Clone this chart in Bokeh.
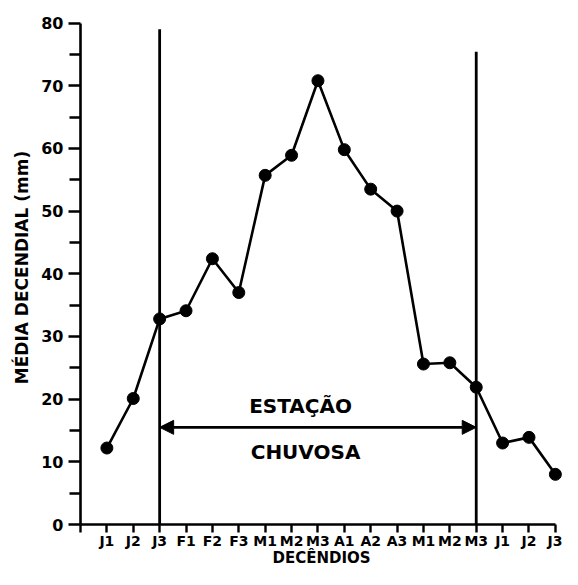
from bokeh.plotting import figure
from bokeh.models import FixedTicker, Range1d, Arrow, NormalHead, Label
from bokeh.embed import file_html
from bokeh.resources import INLINE

# Data
decendios = ["J1", "J2", "J3", "F1", "F2", "F3", "M1", "M2", "M3",
             "A1", "A2", "A3", "M1", "M2", "M3", "J1", "J2", "J3"]
media = [12.2, 20.1, 32.8, 34.1, 42.4, 37.0, 55.7, 58.9, 70.8,
         59.8, 53.5, 50.0, 25.6, 25.8, 21.9, 13.0, 13.9, 8.0]
positions = list(range(1, len(decendios) + 1))
season_start = 3      # J3
season_end = 15       # M3
left_line_top = 79
right_line_top = 75.4
arrow_level = 15.5
y_major = list(range(0, 81, 10))
y_minor = list(range(5, 80, 10))
x_title = "DECÊNDIOS"
y_title = "MÉDIA DECENDIAL (mm)"

FONT = "DejaVu Sans"

p = figure(width=562, height=569, output_backend="svg", toolbar_location=None,
           x_range=Range1d(0, 18.27), y_range=Range1d(0, 82),
           min_border_left=80, min_border_right=0, min_border_top=10,
           min_border_bottom=44)
p.outline_line_color = None
p.grid.grid_line_color = None
p.background_fill_color = "white"
p.border_fill_color = "white"

# vertical season lines
p.segment(x0=[season_start, season_end], y0=[0, 0],
          x1=[season_start, season_end], y1=[left_line_top, right_line_top],
          line_color="black", line_width=2.8)

# data line
p.line(positions, media, line_color="black", line_width=2.6)
p.scatter(positions, media, size=12, fill_color="black", line_color="black")

# double arrow
p.add_layout(Arrow(x_start=season_start, y_start=arrow_level,
                   x_end=season_end, y_end=arrow_level,
                   line_width=2.6, line_color="black",
                   start=NormalHead(size=14, fill_color="black", line_color="black"),
                   end=NormalHead(size=14, fill_color="black", line_color="black")))

p.add_layout(Label(x=8.34, y=18.95, text="ESTAÇÃO", text_align="center",
                   text_baseline="middle", text_font=FONT, text_font_style="bold",
                   text_font_size="20px", text_color="black"))
p.add_layout(Label(x=8.53, y=11.5, text="CHUVOSA", text_align="center",
                   text_baseline="middle", text_font=FONT, text_font_style="bold",
                   text_font_size="20px", text_color="black"))

# x axis
xa = p.xaxis[0]
xa.ticker = FixedTicker(ticks=[0] + positions)
xa.major_label_overrides = {0: ""} | {pos: lab for pos, lab in zip(positions, decendios)}
xa.bounds = (0, 18)
xa.axis_line_width = 2.6
xa.major_tick_line_width = 2.4
xa.major_tick_out = 8
xa.major_tick_in = 0
xa.minor_tick_out = 0
xa.major_label_standoff = 0
xa.major_label_text_font = FONT
xa.major_label_text_font_style = "bold"
xa.major_label_text_font_size = "14px"
xa.major_label_text_color = "black"
xa.axis_label = x_title
xa.axis_label_text_font = FONT
xa.axis_label_text_font_style = "bold"
xa.axis_label_text_font_size = "15px"
xa.axis_label_text_color = "black"
xa.axis_label_standoff = -3

# y axis
ya = p.yaxis[0]
ya.ticker = FixedTicker(ticks=y_major, minor_ticks=y_minor)
ya.bounds = (0, 80)
ya.axis_line_width = 2.6
ya.major_tick_line_width = 2.4
ya.minor_tick_line_width = 2.4
ya.major_tick_out = 12
ya.major_tick_in = 0
ya.minor_tick_out = 11
ya.minor_tick_in = 0
ya.major_label_standoff = 5
ya.major_label_text_font = FONT
ya.major_label_text_font_style = "bold"
ya.major_label_text_font_size = "16px"
ya.major_label_text_color = "black"
ya.axis_label = y_title
ya.axis_label_text_font = FONT
ya.axis_label_text_font_style = "bold"
ya.axis_label_text_font_size = "17px"
ya.axis_label_text_color = "black"
ya.axis_label_standoff = 6

open("out.html", "w").write(file_html(p, INLINE))
